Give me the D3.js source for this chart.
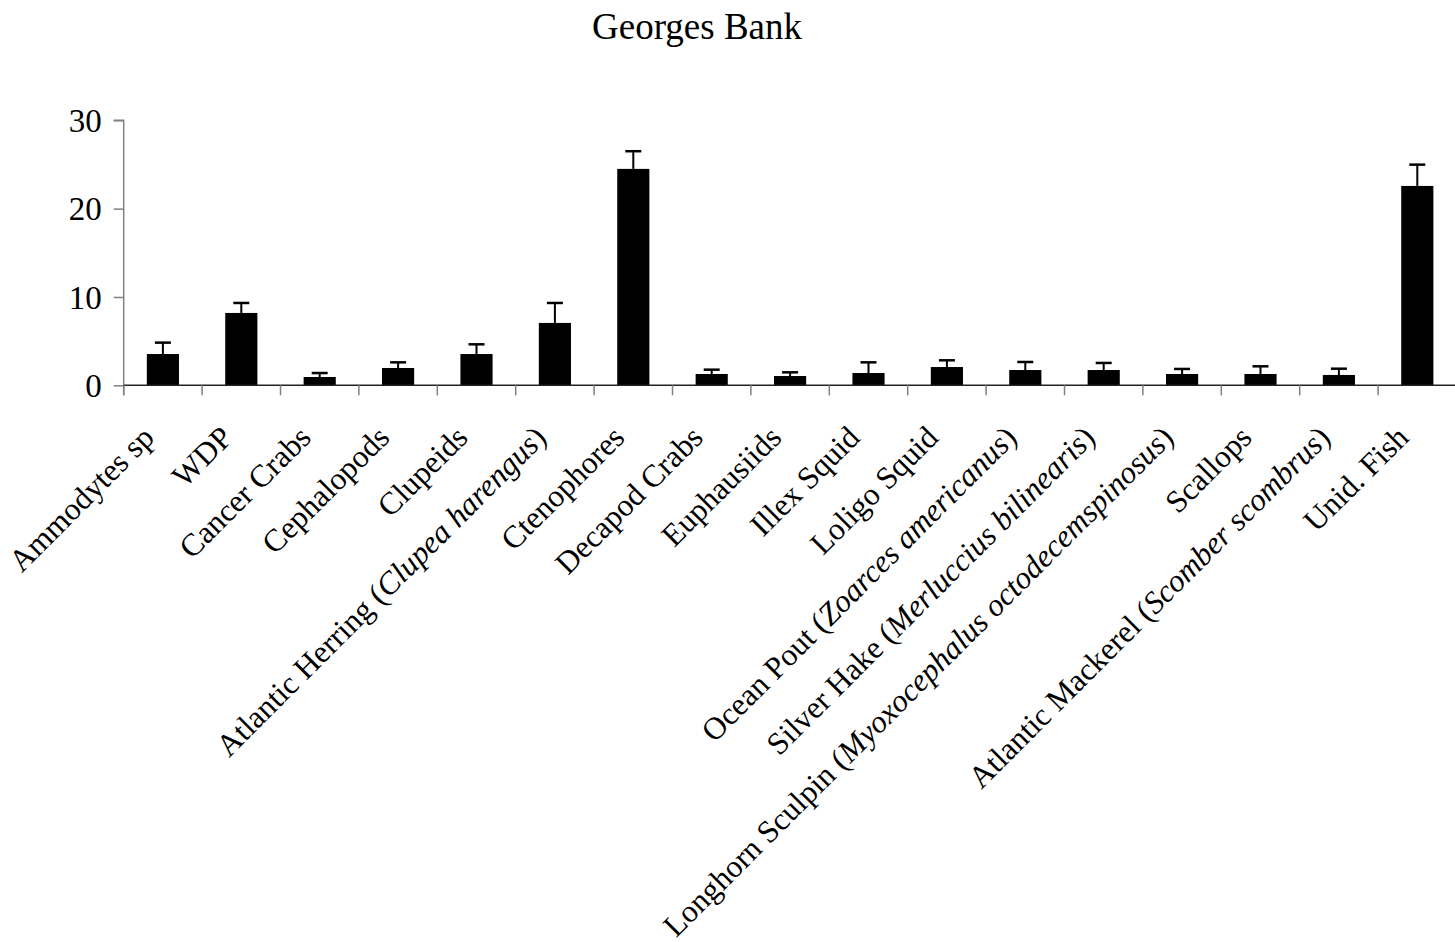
<!DOCTYPE html>
<html>
<head>
<meta charset="utf-8">
<script src="https://cdn.jsdelivr.net/npm/d3@7"></script>
<style>
  html, body { margin: 0; padding: 0; background: #fff; }
  svg { display: block; }
  svg text { font-family: "Times New Roman", "Liberation Serif", serif; }
</style>
</head>
<body>
<svg id="chart" width="1455" height="942"></svg>
<script>
// Prey categories: common name plus optional scientific name (drawn in italics)
const commonNames = [
  "Ammodytes sp", "WDP", "Cancer Crabs", "Cephalopods", "Clupeids",
  "Atlantic Herring", "Ctenophores", "Decapod Crabs", "Euphausiids",
  "Illex Squid", "Loligo Squid", "Ocean Pout", "Silver Hake",
  "Longhorn Sculpin", "Scallops", "Atlantic Mackerel", "Unid. Fish"
];
const scientificNames = [
  "", "", "", "", "",
  "Clupea harengus", "", "", "",
  "", "", "Zoarces americanus", "Merluccius bilinearis",
  "Myoxocephalus octodecemspinosus", "", "Scomber scombrus", ""
];
// Mean values and upper error (standard error) per category
const meanValues = [3.54, 8.19, 0.94, 1.96, 3.54, 7.06, 24.5, 1.28, 1.05, 1.39, 2.07, 1.73, 1.73, 1.28, 1.28, 1.17, 22.57];
const errorValues = [1.29, 1.13, 0.45, 0.64, 1.10, 2.26, 2.00, 0.49, 0.42, 1.21, 0.76, 0.91, 0.80, 0.57, 0.87, 0.71, 2.41];
const yTicks = [0, 10, 20, 30];
const chartTitle = "Georges Bank";

const svg = d3.select("#chart");
const serif = '"Times New Roman", "Liberation Serif", serif';

const x = d3.scaleBand()
  .domain(commonNames)
  .range([123.7, 123.7 + 78.4 * commonNames.length])
  .paddingInner(0.59)
  .paddingOuter(0.295);

const y = d3.scaleLinear().domain([0, 30]).range([385.3, 120.3]);

// Title
svg.append("text")
  .attr("x", 697)
  .attr("y", 39)
  .attr("text-anchor", "middle")
  .style("font-size", "37px")
  .text(chartTitle);

// Bars
svg.append("g").selectAll("rect")
  .data(meanValues)
  .join("rect")
  .attr("x", (d, i) => x(commonNames[i]))
  .attr("y", d => y(d))
  .attr("width", x.bandwidth())
  .attr("height", d => y(0) - y(d))
  .attr("fill", "#000");

// Error bars (upper only)
const err = svg.append("g").attr("stroke", "#000");
meanValues.forEach((m, i) => {
  const cx = x(commonNames[i]) + x.bandwidth() / 2;
  err.append("line")
    .attr("x1", cx).attr("x2", cx)
    .attr("y1", y(m)).attr("y2", y(m + errorValues[i]))
    .attr("stroke-width", 2);
  err.append("line")
    .attr("x1", cx - 8).attr("x2", cx + 8)
    .attr("y1", y(m + errorValues[i])).attr("y2", y(m + errorValues[i]))
    .attr("stroke-width", 2.5);
});

// Y axis
const yAxis = svg.append("g")
  .attr("transform", "translate(123.7,0)")
  .call(d3.axisLeft(y).tickValues(yTicks).tickSize(10).tickPadding(12).tickFormat(d3.format("d")));
yAxis.attr("font-family", serif);
yAxis.select(".domain").attr("stroke", "#808080").attr("stroke-width", 1.5)
  .attr("d", `M-10,${y(30)}H0V${y(0) + 10}`);
yAxis.selectAll(".tick line").attr("stroke", "#808080").attr("stroke-width", 1.5);
yAxis.selectAll(".tick text").style("font-size", "33px").attr("fill", "#000").attr("dy", "0.34em");

// X axis baseline and category separator ticks
const xr = x.range();
svg.append("line")
  .attr("x1", xr[0]).attr("x2", xr[1])
  .attr("y1", y(0)).attr("y2", y(0))
  .attr("stroke", "#222").attr("stroke-width", 1.5);
const bounds = d3.range(commonNames.length).map(i => xr[0] + x.step() * i);
svg.append("g").selectAll("line")
  .data(bounds)
  .join("line")
  .attr("x1", d => d).attr("x2", d => d)
  .attr("y1", y(0)).attr("y2", y(0) + 10)
  .attr("stroke", "#808080").attr("stroke-width", 1.5);

// Rotated category labels
const labels = svg.append("g").style("font-size", "31.5px");
commonNames.forEach((name, i) => {
  const cx = x(name) + x.bandwidth() / 2;
  const ax = cx - 7, ay = y(0) + 54;
  const t = labels.append("text")
    .attr("transform", `translate(${ax},${ay}) rotate(-45)`)
    .attr("text-anchor", "end");
  if (scientificNames[i]) {
    t.append("tspan").text(name + " (");
    t.append("tspan").style("font-style", "italic").text(scientificNames[i]);
    t.append("tspan").text(")");
  } else {
    t.text(name);
  }
});
</script>
</body>
</html>
